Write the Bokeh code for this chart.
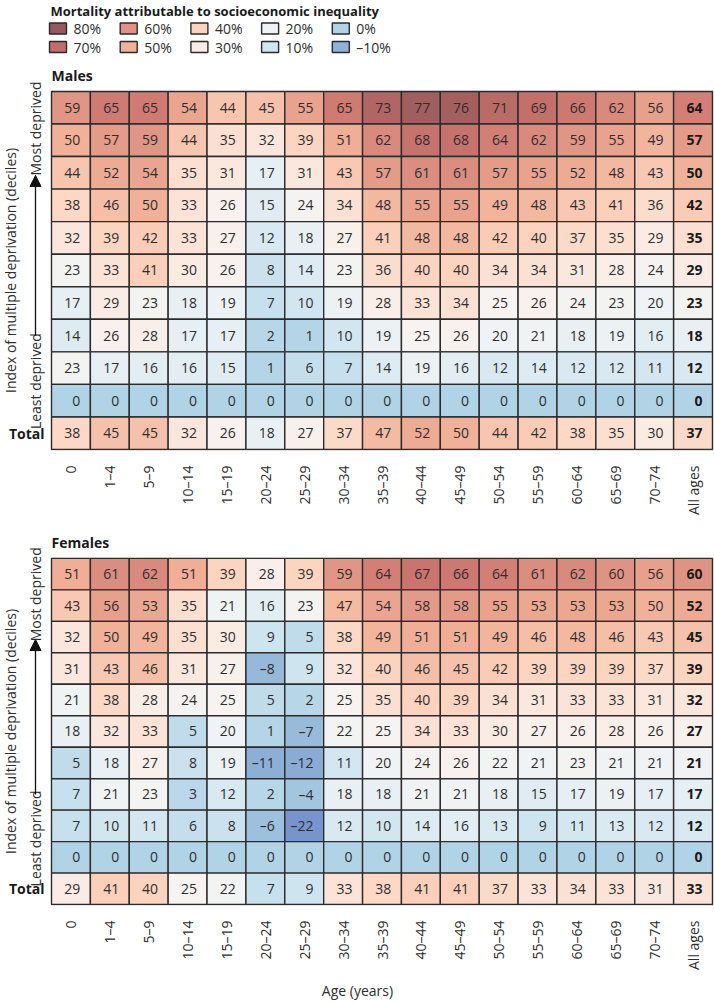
import numpy as np
from bokeh.plotting import figure
from bokeh.models import (ColumnDataSource, LinearColorMapper, Range1d, FixedTicker,
                          Arrow, NormalHead)
from bokeh.transform import transform
from bokeh.layouts import column
from bokeh.embed import file_html
from bokeh.resources import INLINE
from bokeh.core.properties import value

# ---------------- data ----------------
age_groups = ["0", "1–4", "5–9", "10–14", "15–19", "20–24", "25–29", "30–34", "35–39",
              "40–44", "45–49", "50–54", "55–59", "60–64", "65–69", "70–74", "All ages"]

# Males: rows from most deprived decile (10) down to least deprived (1), then Total
m_dec10 = [59, 65, 65, 54, 44, 45, 55, 65, 73, 77, 76, 71, 69, 66, 62, 56, 64]
m_dec9 = [50, 57, 59, 44, 35, 32, 39, 51, 62, 68, 68, 64, 62, 59, 55, 49, 57]
m_dec8 = [44, 52, 54, 35, 31, 17, 31, 43, 57, 61, 61, 57, 55, 52, 48, 43, 50]
m_dec7 = [38, 46, 50, 33, 26, 15, 24, 34, 48, 55, 55, 49, 48, 43, 41, 36, 42]
m_dec6 = [32, 39, 42, 33, 27, 12, 18, 27, 41, 48, 48, 42, 40, 37, 35, 29, 35]
m_dec5 = [23, 33, 41, 30, 26, 8, 14, 23, 36, 40, 40, 34, 34, 31, 28, 24, 29]
m_dec4 = [17, 29, 23, 18, 19, 7, 10, 19, 28, 33, 34, 25, 26, 24, 23, 20, 23]
m_dec3 = [14, 26, 28, 17, 17, 2, 1, 10, 19, 25, 26, 20, 21, 18, 19, 16, 18]
m_dec2 = [23, 17, 16, 16, 15, 1, 6, 7, 14, 19, 16, 12, 14, 12, 12, 11, 12]
m_dec1 = [0, 0, 0, 0, 0, 0, 0, 0, 0, 0, 0, 0, 0, 0, 0, 0, 0]
m_total = [38, 45, 45, 32, 26, 18, 27, 37, 47, 52, 50, 44, 42, 38, 35, 30, 37]

# Females
f_dec10 = [51, 61, 62, 51, 39, 28, 39, 59, 64, 67, 66, 64, 61, 62, 60, 56, 60]
f_dec9 = [43, 56, 53, 35, 21, 16, 23, 47, 54, 58, 58, 55, 53, 53, 53, 50, 52]
f_dec8 = [32, 50, 49, 35, 30, 9, 5, 38, 49, 51, 51, 49, 46, 48, 46, 43, 45]
f_dec7 = [31, 43, 46, 31, 27, -8, 9, 32, 40, 46, 45, 42, 39, 39, 39, 37, 39]
f_dec6 = [21, 38, 28, 24, 25, 5, 2, 25, 35, 40, 39, 34, 31, 33, 33, 31, 32]
f_dec5 = [18, 32, 33, 5, 20, 1, -7, 22, 25, 34, 33, 30, 27, 26, 28, 26, 27]
f_dec4 = [5, 18, 27, 8, 19, -11, -12, 11, 20, 24, 26, 22, 21, 23, 21, 21, 21]
f_dec3 = [7, 21, 23, 3, 12, 2, -4, 18, 18, 21, 21, 18, 15, 17, 19, 17, 17]
f_dec2 = [7, 10, 11, 6, 8, -6, -22, 12, 10, 14, 16, 13, 9, 11, 13, 12, 12]
f_dec1 = [0, 0, 0, 0, 0, 0, 0, 0, 0, 0, 0, 0, 0, 0, 0, 0, 0]
f_total = [29, 41, 40, 25, 22, 7, 9, 33, 38, 41, 41, 37, 33, 34, 33, 31, 33]

legend_values = [80, 60, 40, 20, 0, 70, 50, 30, 10, -10]
legend_labels = ["80%", "60%", "40%", "20%", "0%", "70%", "50%", "30%", "10%", "–10%"]

# ---------------- colour scale (styling) ----------------
stops = [(-22, "#7894cf"), (-12, "#8aabd4"), (-5, "#a0c3dd"), (0, "#b0d3e6"),
         (10, "#d2e6f0"), (20, "#eff3f5"), (25, "#f7f3f0"), (30, "#faebe3"),
         (40, "#fcd3be"), (50, "#f1b198"), (60, "#df9483"), (65, "#d07a72"),
         (70, "#c06e69"), (75, "#a8625f"), (80, "#955a5e")]
LOW, HIGH = -22, 80


def _rgb(h):
    return [int(h[i:i + 2], 16) for i in (1, 3, 5)]


sv = [s[0] for s in stops]
sc = np.array([_rgb(s[1]) for s in stops])
grid_v = np.linspace(LOW, HIGH, 256)
palette = []
for gv in grid_v:
    rgb = [int(round(np.interp(gv, sv, sc[:, k]))) for k in range(3)]
    palette.append("#%02x%02x%02x" % tuple(rgb))
mapper = LinearColorMapper(palette=palette, low=LOW, high=HIGH)

FONT = value("Open Sans")
TXT = "#2e2e2e"
W = 714
PX_PER_COL = 38.88
X0 = -0.5 - 51 / PX_PER_COL
X1 = 16.5 + 2 / PX_PER_COL


def px2x(px):
    return -0.5 + (px - 51) / PX_PER_COL


def fmt(v):
    return ("–%d" % -v) if v < 0 else str(v)


def panel(title, rows, height, bottom, xlabel):
    xs, ys, vs = [], [], []
    tn = dict(x=[], y=[], t=[])
    tb = dict(x=[], y=[], t=[])
    for r, row in enumerate(rows):
        y = 10.5 - r
        for c, v in enumerate(row):
            xs.append(c)
            ys.append(y)
            vs.append(v)
            d = tb if c == len(row) - 1 else tn
            d["x"].append(c + 0.24)
            d["y"].append(y)
            d["t"].append(fmt(v))
    p = figure(width=W, height=height, x_range=Range1d(X0, X1),
               y_range=Range1d(-0.03, 11.95),
               output_backend="svg", toolbar_location=None, y_axis_location=None,
               min_border_left=0, min_border_right=0, min_border_top=0,
               min_border_bottom=bottom)
    p.grid.visible = False
    p.outline_line_color = None
    src = ColumnDataSource(dict(x=xs, y=ys, v=vs))
    p.rect(x="x", y="y", width=1, height=1, source=src,
           fill_color=transform("v", mapper), line_color="#2b2b2b", line_width=1.4)
    p.text(x="x", y="y", text="t", source=ColumnDataSource(tn), text_align="right",
           text_baseline="middle", text_font=FONT, text_font_size="14px", text_color=TXT)
    p.text(x="x", y="y", text="t", source=ColumnDataSource(tb), text_align="right",
           text_baseline="middle", text_font=FONT, text_font_size="14px", text_color="#1a1a1a",
           text_font_style="bold")
    # panel title
    p.text(x=[-0.5], y=[11.49], text=[title], text_align="left", text_baseline="middle",
           text_font=FONT, text_font_size="14px", text_font_style="bold", text_color="#1a1a1a")
    # left annotations
    p.text(x=[px2x(10)], y=[5.5], text=["Index of multiple deprivation (deciles)"],
           angle=np.pi / 2, text_align="center", text_baseline="middle", text_font=FONT,
           text_font_size="14px", text_color=TXT)
    p.text(x=[px2x(35)], y=[9.86], text=["Most deprived"], angle=np.pi / 2,
           text_align="center", text_baseline="middle", text_font=FONT, text_font_size="14px",
           text_color=TXT)
    p.text(x=[px2x(35)], y=[2.1], text=["Least deprived"], angle=np.pi / 2,
           text_align="center", text_baseline="middle", text_font=FONT, text_font_size="14px",
           text_color=TXT)
    p.text(x=[px2x(44)], y=[0.5], text=["Total"], text_align="right", text_baseline="middle",
           text_font=FONT, text_font_size="14px", text_font_style="bold", text_color="#1a1a1a")
    p.add_layout(Arrow(end=NormalHead(size=11, fill_color="#111111", line_color="#111111"),
                       x_start=px2x(35), y_start=3.5, x_end=px2x(35), y_end=8.42,
                       line_width=1.3, line_color="#111111"))
    # x axis
    ax = p.xaxis[0]
    ax.ticker = FixedTicker(ticks=list(range(len(age_groups))))
    ax.major_label_overrides = {i: lab for i, lab in enumerate(age_groups)}
    ax.major_label_orientation = np.pi / 2
    ax.major_label_text_font = "Open Sans"
    ax.major_label_text_font_size = "14px"
    ax.major_label_text_color = TXT
    ax.major_label_standoff = 9
    ax.axis_line_color = None
    ax.major_tick_line_color = None
    ax.minor_tick_line_color = None
    if xlabel:
        ax.axis_label = xlabel
        ax.axis_label_text_font = "Open Sans"
        ax.axis_label_text_font_size = "14px"
        ax.axis_label_text_font_style = "normal"
        ax.axis_label_text_color = TXT
        ax.axis_label_standoff = 8
    return p


males = panel("Males", [m_dec10, m_dec9, m_dec8, m_dec7, m_dec6, m_dec5, m_dec4, m_dec3,
                        m_dec2, m_dec1, m_total], 468, 78, None)
females = panel("Females", [f_dec10, f_dec9, f_dec8, f_dec7, f_dec6, f_dec5, f_dec4, f_dec3,
                            f_dec2, f_dec1, f_total], 474, 84, "Age (years)")

# ---------------- legend ----------------
LH = 60
lg = figure(width=W, height=LH, x_range=Range1d(0, W), y_range=Range1d(LH, 0),
            output_backend="svg", toolbar_location=None, x_axis_location=None,
            y_axis_location=None, min_border=0)
lg.grid.visible = False
lg.outline_line_color = None
lx, ly, tx = [], [], []
for i, v in enumerate(legend_values):
    left = 49 + (i % 5) * 70.7
    lx.append(left + 8.5)
    ly.append(28 + (i // 5) * 18.5)
    tx.append(left + 24)
lsrc = ColumnDataSource(dict(x=lx, y=ly, tx=tx, v=legend_values, t=legend_labels))
lg.rect(x="x", y="y", width=17, height=11, source=lsrc, fill_color=transform("v", mapper),
        line_color="#2b2b2b", line_width=1.4)
lg.text(x="tx", y="y", text="t", source=lsrc, text_align="left", text_baseline="middle",
        text_font=FONT, text_font_size="14px", text_color=TXT)
lg.text(x=[50], y=[10], text=["Mortality attributable to socioeconomic inequality"],
        text_align="left", text_baseline="middle", text_font=FONT, text_font_size="13px",
        text_font_style="bold", text_color="#1a1a1a")

layout = column(lg, males, females, spacing=0)
open("out.html", "w").write(file_html(layout, INLINE))
